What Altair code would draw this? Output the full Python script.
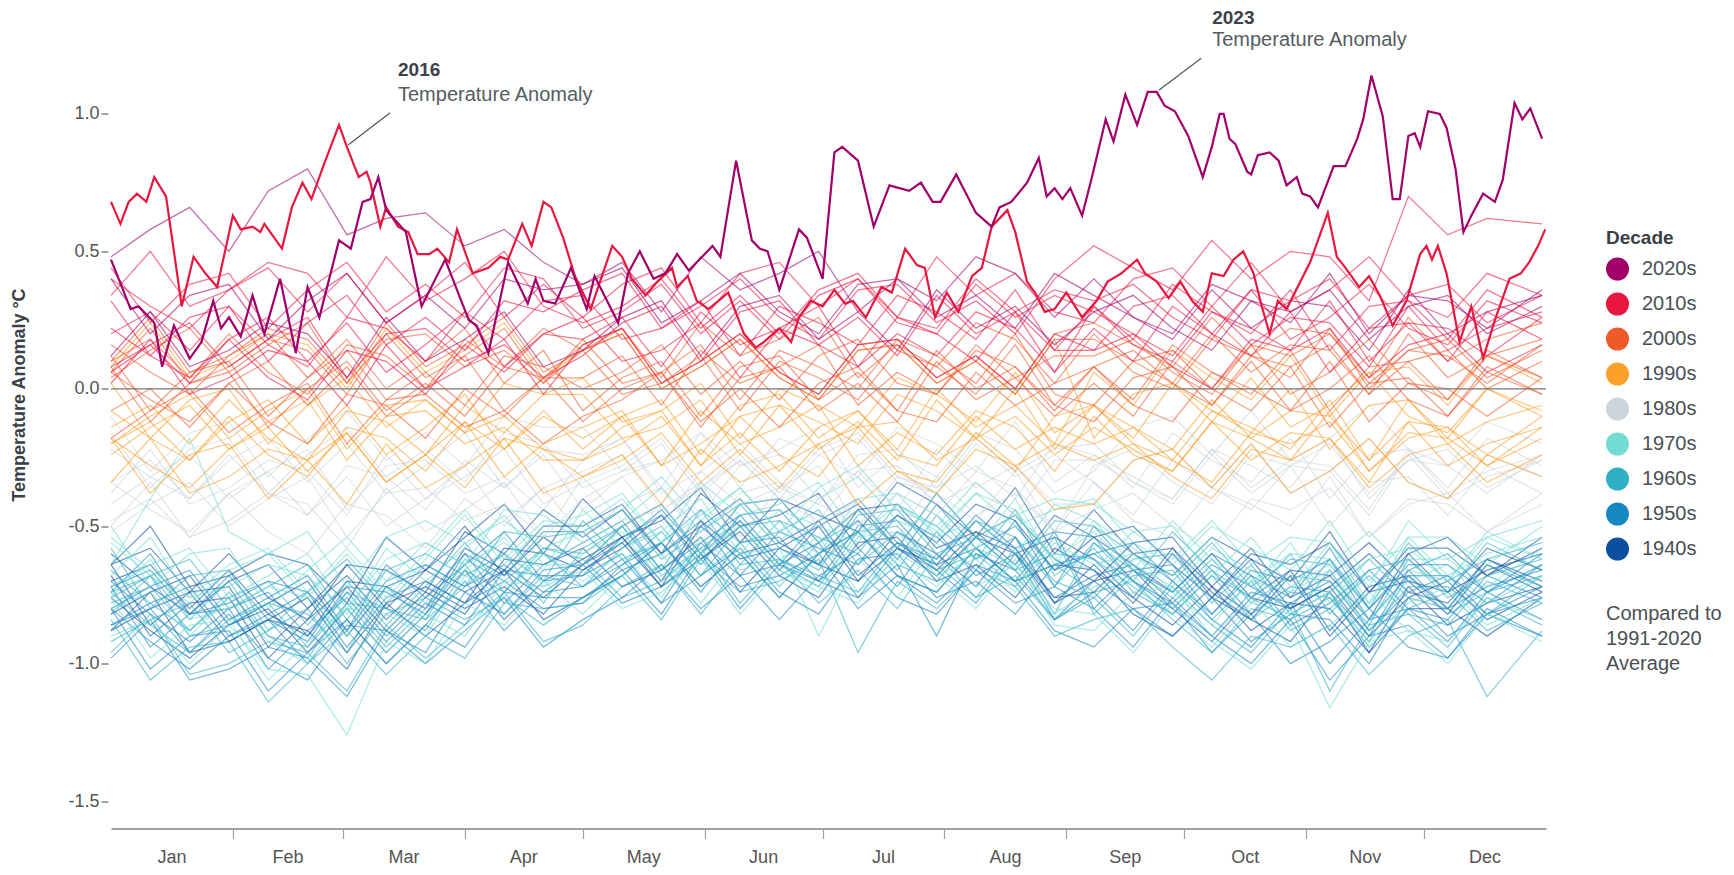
import altair as alt
import pandas as pd

FONT = "Liberation Sans"

DECADES = ["2020s", "2010s", "2000s", "1990s", "1980s", "1970s", "1960s", "1950s", "1940s"]
COLORS = ["#a1006b", "#e8173f", "#f0592a", "#f9a12b", "#ccd5da", "#72dcd4", "#2fb0c4", "#1787c2", "#0b4f9e"]
MONTHS = ["Jan", "Feb", "Mar", "Apr", "May", "Jun", "Jul", "Aug", "Sep", "Oct", "Nov", "Dec"]
MONTH_STARTS = [31, 59, 90, 120, 151, 181, 212, 243, 273, 304, 334]
MONTH_MIDS = [15.5, 45, 74.5, 105, 135.5, 166, 196.5, 227.5, 258, 288.5, 319, 349.5]
Y_TICKS = [-1.5, -1.0, -0.5, 0.0, 0.5, 1.0]

# sample days for the background years (anomalies in hundredths of a degree)
DAYS = [0, 10, 20, 30, 40, 50, 60, 70, 80, 90, 100, 110, 120, 130, 140, 150, 160, 170,
        180, 190, 200, 210, 220, 230, 240, 250, 260, 270, 280, 290, 300, 310, 320, 330, 340, 350, 364]

y1940 = [-70,-64,-80,-66,-82,-90,-70,-72,-80,-58,-66,-50,-50,-42,-60,-50,-40,-56,-64,-44,-42,-58,-52,-64,-46,-54,-64,-74,-60,-76,-66,-68,-84,-60,-74,-66,-60]
y1941 = [-60,-72,-82,-70,-64,-80,-64,-80,-66,-50,-68,-54,-64,-50,-42,-60,-42,-40,-56,-44,-58,-38,-54,-46,-62,-70,-56,-54,-72,-58,-76,-68,-56,-70,-74,-58,-66]
y1942 = [-88,-80,-74,-92,-84,-76,-96,-78,-72,-80,-72,-82,-66,-56,-72,-50,-62,-58,-50,-70,-58,-68,-54,-60,-78,-70,-66,-80,-92,-76,-80,-72,-90,-76,-70,-84,-74]
y1943 = [-64,-86,-74,-72,-94,-80,-68,-84,-70,-78,-58,-60,-66,-58,-46,-62,-50,-66,-50,-42,-58,-64,-48,-60,-54,-62,-76,-58,-72,-82,-66,-88,-72,-68,-80,-62,-72]
y1944 = [-64,-50,-72,-68,-60,-64,-78,-54,-66,-54,-42,-60,-40,-54,-48,-36,-56,-40,-46,-52,-34,-42,-54,-36,-60,-44,-60,-68,-54,-62,-70,-52,-74,-58,-58,-68,-54]
y1945 = [-64,-58,-74,-60,-76,-84,-64,-66,-74,-52,-60,-44,-54,-44,-60,-38,-50,-46,-38,-58,-46,-56,-42,-48,-66,-54,-50,-64,-76,-60,-64,-56,-74,-60,-54,-68,-58]
y1946 = [-76,-88,-98,-86,-80,-96,-80,-96,-82,-66,-84,-70,-62,-54,-72,-62,-52,-68,-76,-56,-54,-70,-64,-76,-58,-66,-76,-86,-72,-88,-78,-80,-96,-72,-86,-78,-72]
y1947 = [-82,-74,-68,-86,-78,-70,-90,-72,-66,-74,-66,-76,-64,-54,-70,-48,-60,-56,-48,-68,-56,-66,-52,-58,-76,-74,-60,-58,-76,-62,-80,-72,-60,-74,-78,-62,-70]
y1948 = [-68,-90,-78,-76,-98,-84,-72,-88,-74,-82,-62,-64,-58,-72,-66,-54,-74,-58,-64,-70,-52,-60,-72,-54,-78,-64,-78,-60,-74,-84,-68,-90,-74,-70,-82,-64,-74]
y1949 = [-88,-74,-96,-92,-84,-88,-102,-78,-90,-78,-66,-84,-76,-68,-56,-72,-60,-76,-60,-52,-68,-74,-58,-70,-64,-66,-82,-90,-76,-84,-92,-74,-96,-80,-80,-90,-76]
y1950 = [-80,-92,-102,-90,-84,-100,-84,-100,-86,-70,-88,-74,-72,-62,-78,-56,-68,-64,-56,-76,-64,-90,-60,-66,-84,-74,-88,-70,-84,-94,-78,-100,-84,-80,-92,-74,-84]
y1951 = [-80,-72,-66,-84,-76,-68,-88,-70,-64,-72,-64,-74,-64,-56,-44,-60,-48,-64,-48,-40,-56,-62,-46,-58,-52,-54,-70,-78,-64,-72,-80,-62,-84,-68,-68,-78,-64]
y1952 = [-72,-94,-82,-80,-102,-88,-76,-92,-78,-86,-66,-68,-68,-60,-78,-68,-58,-74,-82,-62,-60,-76,-70,-82,-64,-60,-70,-80,-66,-82,-72,-74,-90,-66,-80,-72,-66]
y1953 = [-74,-60,-82,-78,-70,-74,-88,-64,-76,-64,-52,-70,-68,-54,-46,-64,-46,-44,-60,-48,-62,-42,-58,-50,-66,-60,-56,-70,-82,-66,-70,-62,-80,-66,-60,-74,-64]
y1954 = [-86,-80,-96,-82,-98,-106,-86,-88,-96,-74,-82,-66,-64,-78,-72,-60,-80,-64,-70,-76,-58,-66,-78,-60,-84,-70,-80,-90,-76,-92,-82,-84,-100,-76,-90,-82,-76]
y1955 = [-80,-102,-90,-88,-110,-96,-84,-100,-86,-94,-74,-76,-76,-66,-82,-60,-72,-68,-60,-80,-68,-78,-64,-70,-88,-94,-80,-78,-96,-82,-100,-92,-80,-94,-98,-82,-90]
y1956 = [-98,-84,-106,-102,-94,-98,-112,-88,-100,-88,-76,-94,-84,-76,-64,-80,-68,-84,-68,-60,-76,-82,-66,-78,-72,-80,-94,-76,-90,-100,-84,-106,-90,-86,-98,-80,-90]
y1957 = [-72,-66,-82,-68,-84,-92,-72,-74,-82,-60,-68,-52,-52,-66,-60,-48,-68,-52,-58,-64,-46,-54,-66,-48,-72,-50,-66,-74,-60,-68,-76,-58,-80,-64,-64,-74,-60]
y1958 = [-70,-82,-92,-80,-74,-90,-74,-90,-76,-60,-78,-64,-56,-48,-66,-56,-46,-62,-70,-50,-48,-64,-58,-70,-52,-80,-66,-64,-82,-68,-86,-78,-66,-80,-84,-68,-76]
y1959 = [-86,-78,-72,-90,-82,-74,-94,-76,-70,-78,-70,-80,-78,-64,-56,-74,-56,-54,-70,-58,-72,-52,-68,-60,-76,-68,-64,-78,-90,-74,-78,-70,-88,-74,-68,-82,-72]
y1960 = [-82,-68,-90,-86,-78,-82,-96,-72,-84,-72,-60,-78,-58,-50,-68,-58,-48,-64,-72,-52,-50,-66,-60,-72,-54,-82,-68,-66,-84,-70,-88,-80,-68,-82,-86,-70,-78]
y1961 = [-74,-68,-84,-70,-90,-94,-74,-80,-84,-62,-70,-58,-60,-50,-66,-44,-56,-52,-44,-64,-52,-62,-48,-54,-72,-56,-70,-52,-66,-76,-60,-82,-66,-62,-74,-56,-66]
y1962 = [-74,-86,-96,-84,-78,-94,-78,-94,-80,-64,-82,-68,-72,-64,-52,-68,-56,-72,-56,-48,-64,-70,-54,-66,-60,-62,-72,-82,-68,-84,-74,-76,-92,-68,-82,-74,-68]
y1963 = [-76,-68,-62,-80,-72,-64,-84,-66,-60,-68,-60,-70,-48,-62,-56,-44,-64,-48,-54,-60,-42,-50,-62,-44,-68,-58,-74,-82,-68,-76,-84,-66,-88,-72,-72,-82,-68]
y1964 = [-84,-106,-94,-92,-114,-100,-88,-104,-90,-98,-78,-80,-78,-68,-84,-62,-74,-70,-62,-96,-70,-80,-66,-72,-90,-84,-80,-94,-106,-90,-94,-86,-104,-90,-84,-112,-88]
y1965 = [-96,-82,-104,-100,-92,-96,-110,-86,-98,-86,-74,-92,-86,-72,-64,-82,-64,-62,-78,-66,-80,-60,-76,-68,-84,-76,-90,-72,-86,-96,-80,-110,-86,-82,-94,-76,-86]
y1966 = [-78,-72,-88,-74,-90,-98,-78,-80,-88,-66,-74,-58,-62,-76,-70,-58,-78,-62,-68,-74,-56,-64,-76,-58,-82,-56,-66,-76,-62,-78,-68,-70,-86,-62,-76,-68,-62]
y1967 = [-66,-78,-88,-76,-70,-86,-70,-86,-72,-56,-74,-60,-72,-58,-50,-68,-50,-48,-64,-52,-66,-46,-62,-54,-70,-76,-62,-60,-78,-64,-82,-74,-62,-76,-80,-64,-72]
y1968 = [-92,-84,-78,-96,-88,-80,-100,-82,-76,-84,-76,-86,-76,-68,-56,-72,-60,-76,-60,-52,-68,-74,-58,-70,-64,-74,-70,-84,-96,-80,-84,-76,-94,-80,-74,-88,-78]
y1969 = [-58,-80,-68,-66,-88,-74,-62,-78,-64,-72,-52,-54,-52,-44,-62,-52,-42,-58,-66,-46,-44,-60,-54,-66,-48,-50,-60,-70,-56,-72,-62,-64,-80,-56,-70,-62,-56]
y1970 = [-68,-54,-76,-72,-64,-68,-82,-58,-70,-58,-46,-64,-64,-50,-42,-60,-42,-40,-56,-44,-58,-38,-54,-46,-62,-52,-66,-48,-62,-72,-56,-78,-62,-58,-70,-52,-62]
y1971 = [-80,-74,-90,-76,-92,-100,-80,-82,-90,-68,-76,-60,-70,-60,-76,-54,-66,-62,-54,-74,-62,-72,-58,-64,-82,-72,-68,-82,-94,-78,-82,-74,-92,-78,-72,-86,-76]
y1972 = [-56,-68,-78,-66,-60,-76,-60,-76,-62,-46,-64,-50,-46,-38,-56,-46,-36,-52,-60,-40,-38,-54,-48,-60,-42,-48,-64,-72,-58,-66,-74,-56,-78,-62,-62,-72,-58]
y1973 = [-64,-40,-18,-52,-60,-52,-72,-54,-48,-56,-48,-58,-52,-44,-32,-48,-36,-52,-36,-28,-44,-50,-34,-46,-40,-42,-52,-62,-48,-64,-54,-56,-72,-48,-62,-54,-48]
y1974 = [-76,-98,-86,-84,-106,-92,-80,-96,-82,-90,-70,-72,-66,-80,-74,-62,-82,-66,-72,-78,-60,-68,-80,-62,-86,-88,-74,-72,-90,-76,-94,-86,-74,-88,-92,-76,-84]
y1975 = [-76,-62,-84,-80,-72,-76,-90,-66,-78,-66,-54,-72,-60,-52,-70,-60,-50,-66,-74,-54,-52,-68,-62,-74,-56,-64,-60,-74,-86,-70,-74,-66,-84,-70,-64,-78,-68]
y1976 = [-90,-84,-100,-86,-102,-104,-126,-92,-100,-78,-86,-70,-82,-68,-60,-78,-60,-58,-90,-62,-76,-56,-72,-64,-80,-82,-96,-78,-92,-102,-86,-116,-92,-88,-100,-82,-92]
y1977 = [-54,-66,-76,-64,-58,-74,-58,-74,-60,-44,-62,-48,-50,-40,-56,-34,-46,-42,-34,-54,-42,-52,-38,-44,-62,-66,-52,-50,-68,-54,-72,-64,-52,-66,-70,-54,-62]
y1978 = [-72,-64,-58,-76,-68,-60,-80,-62,-56,-64,-56,-66,-44,-58,-52,-40,-60,-44,-50,-56,-38,-46,-58,-40,-64,-48,-58,-68,-54,-70,-60,-62,-78,-54,-68,-60,-54]
y1979 = [-50,-72,-60,-58,-80,-66,-54,-70,-56,-64,-44,-46,-56,-48,-36,-52,-40,-56,-40,-32,-48,-54,-38,-50,-44,-40,-56,-64,-50,-58,-66,-48,-70,-54,-54,-64,-50]
y1980 = [-34,-26,-40,-24,-38,-46,-28,-32,-44,-26,-36,-22,-24,-18,-38,-30,-20,-34,-42,-24,-22,-36,-28,-40,-20,-24,-32,-40,-22,-36,-26,-28,-44,-22,-38,-30,-24]
y1981 = [-22,-32,-40,-26,-18,-34,-20,-38,-28,-16,-36,-24,-44,-32,-26,-46,-28,-24,-40,-30,-44,-22,-36,-28,-42,-42,-26,-22,-36,-20,-38,-30,-18,-34,-40,-24,-32]
y1982 = [-52,-42,-34,-50,-40,-32,-54,-38,-36,-48,-42,-54,-40,-32,-50,-30,-42,-36,-28,-50,-38,-46,-30,-36,-52,-28,-22,-34,-42,-24,-28,-20,-38,-26,-22,-36,-26]
y1983 = [-16,-36,-22,-18,-38,-24,-14,-32,-22,-34,-16,-20,-36,-30,-20,-38,-26,-40,-24,-18,-34,-38,-20,-32,-24,-34,-46,-26,-36,-44,-28,-50,-34,-32,-46,-28,-38]
y1984 = [-50,-34,-54,-48,-38,-42,-58,-36,-52,-44,-34,-54,-32,-48,-44,-34,-54,-36,-42,-50,-32,-38,-48,-30,-52,-34,-48,-54,-36,-42,-50,-32,-54,-40,-42,-52,-38]
y1985 = [-48,-40,-54,-38,-52,-60,-42,-46,-58,-40,-50,-36,-54,-42,-36,-56,-38,-34,-50,-40,-54,-32,-46,-38,-52,-44,-38,-50,-58,-40,-44,-36,-54,-42,-38,-52,-42]
y1986 = [-34,-44,-52,-38,-30,-46,-32,-50,-40,-28,-48,-36,-30,-24,-44,-36,-26,-40,-48,-30,-28,-42,-34,-46,-26,-26,-34,-42,-24,-38,-28,-30,-46,-24,-40,-32,-26]
y1987 = [-42,-32,-24,-40,-30,-22,-44,-28,-26,-38,-32,-44,-26,-18,-36,-16,-28,-22,-14,-36,-24,-32,-16,-22,-38,-30,-14,-10,-24,-8,-26,-18,-6,-22,-28,-12,-20]
y1988 = [-10,-30,-16,-12,-32,-18,-8,-26,-16,-28,-10,-14,-14,-30,-26,-16,-36,-18,-24,-32,-14,-20,-30,-12,-34,-24,-36,-16,-26,-34,-18,-40,-24,-22,-36,-18,-28]
y1989 = [-38,-22,-42,-36,-26,-30,-46,-24,-40,-32,-22,-42,-34,-28,-18,-36,-24,-38,-22,-16,-32,-36,-18,-30,-22,-20,-34,-40,-22,-28,-36,-18,-40,-26,-28,-38,-24]
y1990 = [-14,-6,-20,-4,-18,-26,-8,-12,-24,-6,-16,-2,-2,-18,-14,-4,-24,-6,-12,-20,-2,-8,-18,0,-22,-6,-18,2,-8,-16,0,-22,-6,-4,-18,0,-10]
y1991 = [-20,-10,-2,-18,-8,0,-22,-6,-4,-16,-10,-22,-26,-14,-8,-28,-10,-6,-22,-12,-26,-4,-18,-10,-24,-14,-22,-30,-12,-26,-16,-18,-34,-12,-28,-20,-14]
y1992 = [-18,-38,-24,-20,-40,-26,-16,-34,-24,-36,-18,-22,-32,-24,-42,-22,-34,-28,-20,-42,-30,-38,-22,-28,-44,-42,-26,-22,-36,-20,-38,-30,-18,-34,-40,-24,-32]
y1993 = [-34,-18,-38,-32,-22,-26,-42,-20,-36,-28,-18,-38,-32,-26,-16,-34,-22,-36,-20,-14,-30,-34,-16,-28,-20,-26,-20,-32,-40,-22,-26,-18,-36,-24,-20,-34,-24]
y1994 = [-18,-28,-36,-22,-14,-30,-16,-34,-24,-12,-32,-20,-14,-8,-28,-20,-10,-24,-32,-14,-12,-26,-18,-30,-10,-6,-20,-26,-8,-14,-22,-4,-26,-12,-14,-24,-10]
y1995 = [2,-18,-4,0,-20,-6,4,-14,-4,-16,2,-2,4,-12,-8,2,-18,0,-6,-14,4,-2,-12,6,-16,-6,-14,-22,-4,-18,-8,-10,-26,-4,-20,-12,-6]
y1996 = [-24,-14,-6,-22,-12,-4,-26,-10,-8,-20,-14,-26,-26,-20,-10,-28,-16,-30,-14,-8,-24,-28,-10,-22,-14,-20,-14,-26,-34,-16,-20,-12,-30,-18,-14,-28,-18]
y1997 = [-20,-12,-26,-10,-24,-32,-14,-18,-30,-12,-22,-8,-22,-10,-4,-24,-6,-2,-18,-8,-22,0,-14,-6,-20,6,-6,14,4,-4,12,-10,6,8,-6,12,2]
y1998 = [8,24,4,10,20,16,0,22,6,14,24,4,14,20,0,8,18,4,-4,14,16,2,10,-2,18,-18,-2,2,-12,4,-14,-6,6,-10,-16,0,-8]
y1999 = [-8,-18,-26,-12,-4,-20,-6,-24,-14,-2,-22,-10,-18,-10,-28,-8,-20,-14,-6,-28,-16,-24,-8,-14,-30,-10,-24,-30,-12,-18,-26,-8,-30,-16,-18,-28,-14]
y2000 = [-18,-8,0,-16,-6,2,-20,-4,-2,-14,-8,-20,-10,-4,6,-12,0,-14,2,8,-8,-12,6,-6,2,8,-6,-12,6,0,-8,10,-12,2,0,-10,4]
y2001 = [8,-12,2,6,-14,0,10,-8,2,-10,8,4,4,12,-6,14,2,8,16,-6,6,-2,14,8,-8,8,14,2,-6,12,8,16,-2,10,14,0,10]
y2002 = [6,22,2,8,18,14,-2,20,4,12,22,2,18,2,6,16,-4,14,8,0,18,12,2,20,-2,-6,10,14,0,16,-2,6,18,2,-4,12,4]
y2003 = [10,18,4,20,6,-2,16,12,0,18,8,22,14,20,0,8,18,4,-4,14,16,2,10,-2,18,18,10,2,20,6,16,14,-2,20,4,12,18]
y2004 = [16,6,-2,12,20,4,18,0,10,22,2,14,-8,4,10,-10,8,12,-4,6,-8,14,0,8,-6,8,-4,16,6,-2,14,-8,8,10,-4,14,4]
y2005 = [4,14,22,6,16,24,2,18,20,8,14,2,14,22,4,24,12,18,26,4,16,8,24,18,2,20,6,0,18,12,4,22,0,14,12,2,16]
y2006 = [12,-8,6,10,-10,4,14,-4,6,-6,12,8,0,6,16,-2,10,-4,12,18,2,-2,16,4,12,12,18,6,-2,16,12,20,2,14,18,4,14]
y2007 = [10,26,6,12,22,18,2,24,8,16,26,6,14,-2,2,12,-8,10,4,-4,14,8,-2,16,-6,-12,4,8,-6,10,-8,0,12,-4,-10,6,-2]
y2008 = [-8,0,-14,2,-12,-20,-2,-6,-18,0,-10,4,-12,0,6,-14,4,8,-8,2,-12,10,-4,4,-10,2,-10,10,0,-8,8,-14,2,4,-10,8,-2]
y2009 = [6,-4,-12,2,10,-6,8,-10,0,12,-8,4,16,22,2,10,20,6,-2,16,18,4,12,0,20,24,16,8,26,12,22,20,4,26,10,18,24]
y2010 = [44,24,38,42,22,36,46,28,38,26,44,40,22,28,38,20,32,18,34,40,24,20,38,26,34,28,20,12,30,16,26,24,8,30,14,22,28]
y2011 = [2,18,-2,4,14,10,-6,16,0,8,18,-2,16,22,2,10,20,6,-2,16,18,4,12,0,20,14,20,8,0,18,14,22,4,16,20,6,16]
y2012 = [8,16,2,18,4,-4,14,10,-2,16,6,20,26,10,14,24,4,22,16,8,26,20,10,28,6,22,10,30,20,12,28,6,22,24,10,28,18]
y2013 = [22,12,4,18,26,10,24,6,16,28,8,20,18,26,8,28,16,22,30,8,20,12,28,22,6,30,16,10,28,22,14,32,10,24,22,12,26]
y2014 = [6,16,24,8,18,26,4,20,22,10,16,4,12,24,30,10,28,32,16,26,12,34,20,28,14,14,30,34,20,36,18,26,38,22,16,32,24]
y2015 = [32,12,26,30,10,24,34,16,26,14,32,28,36,42,22,30,40,26,18,36,38,24,32,20,40,52,44,36,54,40,50,48,32,70,56,62,60]
y2017 = [34,50,30,36,46,42,26,48,32,40,50,30,24,30,40,22,34,20,36,42,26,22,40,28,36,32,38,26,18,36,32,40,22,34,38,24,34]
y2018 = [20,28,14,30,16,8,26,22,10,28,18,32,34,18,22,32,12,30,24,16,34,28,18,36,14,30,18,38,28,20,36,14,30,32,18,36,26]
y2019 = [40,30,22,36,44,28,42,24,34,46,26,38,26,38,44,24,42,46,30,40,26,48,34,42,28,24,40,44,30,46,28,36,48,32,26,42,34]
y2020 = [48,58,66,50,72,80,56,62,64,52,58,46,38,46,28,48,36,42,50,28,40,32,48,42,26,40,26,20,38,32,24,42,20,34,32,22,36]
y2021 = [12,28,8,14,24,20,4,26,10,18,28,8,14,26,32,12,30,34,18,28,14,36,22,30,16,28,34,22,14,32,28,36,18,30,34,20,30]
y2022 = [40,20,34,38,18,32,42,24,34,22,40,36,38,44,24,32,42,28,20,38,40,26,34,22,42,34,26,18,36,22,32,30,14,36,20,28,34]

# highlighted years, traced in detail (day of year, anomaly in degrees C)
D2016 = [0,2.4,4.5,6.6,9,11,14,18,21,24,27,31,33,36,38,39,43.5,46,48.7,51,54,58,60,63,65,66,68.5,70,73,75.6,
         78,81,83,86,88,92,96,99,101,104.6,107,110,112,115,118,122,127.5,130,132.5,136,139,142.7,144,146.7,149,152,157,161,164,166,
         170,173,175,178,181,184,186.7,188.7,192,196,198.6,202,205,207,209.6,212.6,215.5,219,221.5,224,228,230,233,235,237.5,240,243,247,250.7,253.5,
         257,261,263,266,269,272,275,277.7,280,283,285.5,288,290.6,292.7,294.7,296.8,299,305,309.5,311.8,314,317.5,320,322.7,326,329.5,333,334.6,336,337.5,
         339.7,343,346,349,352,355.7,358.6,360.7,363,364.8]
V2016 = [0.68,0.60,0.68,0.71,0.68,0.77,0.70,0.30,0.48,0.42,0.37,0.63,0.58,0.59,0.57,0.60,0.51,0.66,0.75,0.69,0.81,0.96,0.88,0.77,0.79,0.75,0.59,0.66,0.59,0.57,
         0.49,0.49,0.51,0.46,0.58,0.42,0.44,0.48,0.47,0.60,0.52,0.68,0.66,0.55,0.41,0.29,0.52,0.48,0.40,0.34,0.39,0.44,0.37,0.41,0.32,0.29,0.35,0.20,0.15,0.17,
         0.22,0.17,0.26,0.32,0.30,0.36,0.31,0.32,0.26,0.37,0.35,0.51,0.45,0.44,0.26,0.35,0.28,0.41,0.44,0.59,0.65,0.57,0.39,0.35,0.28,0.29,0.35,0.26,0.32,0.39,
         0.42,0.47,0.42,0.39,0.33,0.39,0.32,0.28,0.42,0.41,0.47,0.50,0.42,0.30,0.20,0.32,0.29,0.46,0.64,0.48,0.44,0.37,0.41,0.34,0.23,0.32,0.49,0.52,0.47,0.52,
         0.42,0.17,0.30,0.11,0.25,0.40,0.42,0.46,0.52,0.58]
D2023 = [0,5,7,11,13,16,20,23,26,28,30,33,36,39,43,47,50,53,58,61,64,66,68,70,75,79,85,91,93,96,
         101,106,108,110,113,117,121,123,129,131.5,134.5,138,141,144,147,149,153,155,159,163,165,167,170,175,177,181,184,186,190,194,
         198,203,206,209,211,215,220,224,226,229,233,236,238,240,242,244,247,249.5,253,255,258,261,263.7,266,268,270.6,274,277.7,280,282,
         283,284.5,286,289,290,291.7,294.7,297,299,301.6,303,305,307,311,314,317,318.5,320.6,323.5,326,327.8,330,331.6,333,335,338,339.7,342,344,346,
         349,352,354,357,359,361,364]
V2023 = [0.47,0.29,0.30,0.24,0.08,0.23,0.11,0.17,0.32,0.22,0.26,0.19,0.34,0.20,0.40,0.13,0.37,0.26,0.54,0.51,0.68,0.69,0.77,0.65,0.57,0.30,0.47,0.25,0.23,0.13,
         0.46,0.31,0.40,0.32,0.31,0.44,0.29,0.41,0.24,0.42,0.50,0.40,0.42,0.49,0.43,0.46,0.52,0.48,0.83,0.54,0.51,0.50,0.36,0.58,0.55,0.40,0.86,0.88,0.83,0.59,
         0.74,0.72,0.75,0.68,0.68,0.78,0.64,0.59,0.66,0.68,0.75,0.84,0.70,0.73,0.69,0.73,0.63,0.77,0.98,0.90,1.07,0.96,1.08,1.08,1.03,1.01,0.92,0.77,0.88,1.00,
         1.00,0.91,0.89,0.79,0.78,0.85,0.86,0.83,0.74,0.77,0.71,0.70,0.66,0.81,0.81,0.91,0.98,1.14,0.99,0.69,0.69,0.92,0.93,0.88,1.01,1.00,0.95,0.80,0.57,0.63,
         0.71,0.68,0.76,1.04,0.98,1.02,0.91]

# annotations
ANN_YEAR = ["2016", "2023"]
ANN_SUB = ["Temperature Anomaly", "Temperature Anomaly"]
ANN_DAY = [73.0, 280.1]
ANN_YEAR_Y = [1.16, 1.35]
ANN_SUB_Y = [1.07, 1.27]
LEAD_X1 = [71.0, 277.3]
LEAD_Y1 = [1.004, 1.2025]
LEAD_X2 = [60.3, 266.6]
LEAD_Y2 = [0.887, 1.087]
NOTE = ["Compared to", "1991-2020", "Average"]

# ---- tables ----
BG_YEARS = [yr for yr in range(1940, 2023) if yr != 2016]
rows = []
for yr in BG_YEARS:
    vals = globals()["y%d" % yr]
    for d, v in zip(DAYS, vals):
        rows.append({"year": yr, "decade": "%ds" % (yr // 10 * 10), "day": d, "value": v / 100.0})
bg_df = pd.DataFrame(rows)

hl_rows = []
for yr, ds, vs in [(2016, D2016, V2016), (2023, D2023, V2023)]:
    for d, v in zip(ds, vs):
        hl_rows.append({"year": yr, "decade": "%ds" % (yr // 10 * 10), "day": d, "value": v})
hl_df = pd.DataFrame(hl_rows)

month_df = pd.DataFrame({"day": MONTH_MIDS, "month": MONTHS})
ann_df = pd.DataFrame({"day": ANN_DAY, "yv": ANN_YEAR_Y, "sv": ANN_SUB_Y, "year": ANN_YEAR, "sub": ANN_SUB})
lead_df = pd.DataFrame({"day": LEAD_X1, "value": LEAD_Y1, "day2": LEAD_X2, "value2": LEAD_Y2})
zero_df = pd.DataFrame({"value": [0.0]})
note_df = pd.DataFrame({"t": ["\n".join(NOTE)]})
legend_df = pd.DataFrame({"decade": DECADES})

W, H = 1435, 797

x_scale = alt.Scale(domain=[0, 365], nice=False, zero=False)
y_scale = alt.Scale(domain=[-1.6, 1.3], nice=False, zero=False)
color_scale = alt.Scale(domain=DECADES, range=COLORS)

x_axis = alt.Axis(values=MONTH_STARTS, labels=False, title=None, grid=False,
                  domainColor="#a0a0a0", domainWidth=1.8, tickColor="#a0a0a0",
                  tickSize=10, tickWidth=1.2)
y_axis = alt.Axis(values=Y_TICKS, title="Temperature Anomaly \u00b0C", grid=False,
                  labelExpr="datum.value < 0 ? '-' + format(-datum.value, '.1f') : format(datum.value, '.1f')",
                  domain=False, tickSize=7, tickColor="#666666", tickWidth=1.2,
                  labelFontSize=18, labelColor="#555555", labelPadding=2, labelFont=FONT,
                  offset=3, titleFont=FONT, titleFontSize=18, titleFontWeight="bold",
                  titleColor="#3a3f45", titleX=-89, titleY=363, titleBaseline="middle",
                  titleAlign="center")

legend = alt.Legend(title="Decade", orient="none", legendX=1495, legendY=197,
                    symbolType="circle", symbolSize=529, symbolStrokeWidth=0,
                    symbolOpacity=1, labelFontSize=20, titleFontSize=19,
                    titleFontWeight="bold", labelColor="#4a4f55", titleColor="#3a3f45",
                    labelFont=FONT, titleFont=FONT, rowPadding=12, labelOffset=13,
                    titlePadding=10)

X = alt.X("day:Q", scale=x_scale, axis=x_axis)
Y = alt.Y("value:Q", scale=y_scale, axis=y_axis)

# legend only: filled circles keyed to the decade colour scale (no marks drawn)
legend_layer = alt.Chart(legend_df).transform_filter("false").mark_point(
    filled=True, shape="circle", size=529, opacity=1).encode(
    color=alt.Color("decade:N", scale=color_scale, legend=legend))

bg = alt.Chart(bg_df).mark_line().encode(
    x=X, y=Y,
    color=alt.Color("decade:N", scale=color_scale),
    detail="year:N",
    strokeWidth=alt.value(1.25),
    strokeOpacity=alt.value(0.58),
)

zero = alt.Chart(zero_df).mark_rule(color="#777777", strokeWidth=1.3).encode(y=Y)

hl = alt.Chart(hl_df).mark_line().encode(
    x=X, y=Y,
    color=alt.Color("decade:N", scale=color_scale),
    detail="year:N",
    strokeWidth=alt.value(2.2),
)

leaders = alt.Chart(lead_df).mark_rule(color="#555555", strokeWidth=1.2).encode(
    x=X, y=Y, x2="day2:Q", y2="value2:Q")

ann_year = alt.Chart(ann_df).mark_text(align="left", baseline="middle", font=FONT, fontSize=19,
                                       fontWeight="bold", color="#3d4148").encode(
    x=X, y=alt.Y("yv:Q", scale=y_scale, axis=y_axis), text="year:N")

ann_sub = alt.Chart(ann_df).mark_text(align="left", baseline="middle", font=FONT, fontSize=20,
                                      color="#555b62").encode(
    x=X, y=alt.Y("sv:Q", scale=y_scale, axis=y_axis), text="sub:N")

months = alt.Chart(month_df).mark_text(baseline="middle", font=FONT, fontSize=18,
                                       color="#555555").encode(
    x=X, y=alt.value(H + 29), text="month:N")

note = alt.Chart(note_df).mark_text(align="left", baseline="top", font=FONT, fontSize=20,
                                    color="#4a4f55", lineHeight=25, lineBreak="\n").encode(
    x=alt.value(1495), y=alt.value(572), text="t:N")

chart = alt.layer(legend_layer, bg, zero, hl, leaders, ann_year, ann_sub, months, note).properties(
    width=W, height=H,
    padding={"left": 103, "top": 23.5, "right": 180, "bottom": 48},
    autosize=alt.AutoSizeParams(type="none"),
).configure(font=FONT).configure_view(stroke=None)

chart.save("out.html", embed_options={"renderer": "svg", "actions": False})
